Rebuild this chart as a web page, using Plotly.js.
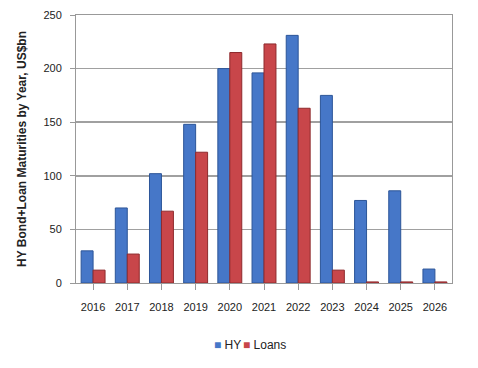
<!DOCTYPE html>
<html><head><meta charset="utf-8">
<script src="https://cdn.plot.ly/plotly-3.0.1.min.js"></script>
<style>html,body{margin:0;padding:0;background:#fff}#chart{width:478px;height:368px}</style>
</head><body><div id="chart"></div>
<script>
const years = ['2016','2017','2018','2019','2020','2021','2022','2023','2024','2025','2026'];
const hyValues = [30, 70, 102, 148, 200, 196, 231, 175, 77, 86, 13];
const loanValues = [12, 27, 67, 122, 215, 223, 163, 12, 1, 1, 1];
const yTicks = [0, 50, 100, 150, 200, 250];
const seriesNames = ['HY', 'Loans'];
const seriesColors = ['#4677c8', '#c8464a'];

const font = "'Liberation Sans Narrow', 'Liberation Sans', Arial, sans-serif";
const data = [
  {type:'bar', name:seriesNames[0], x:years, y:hyValues,
   marker:{color:seriesColors[0], line:{color:'#2c5598', width:1}}},
  {type:'bar', name:seriesNames[1], x:years, y:loanValues,
   marker:{color:seriesColors[1], line:{color:'#8e2a2d', width:1}}}
];
const legendX = [212, 241];
const annotations = seriesNames.map((n, i) => ({
  xref:'paper', yref:'paper', x:(legendX[i]-76)/376, y:-0.23, xanchor:'left', yanchor:'middle',
  showarrow:false, text:'<span style="color:'+seriesColors[i]+'">■</span> '+n,
  font:{size:12, family:font, color:'#222'}
}));
const layout = {
  width:478, height:368,
  margin:{l:76, r:26, t:15, b:85},
  paper_bgcolor:'#fff', plot_bgcolor:'#fff',
  barmode:'group', bargap:0.3, bargroupgap:0,
  font:{family:font, size:11, color:'#222'},
  xaxis:{type:'category', showline:true, linecolor:'#999', mirror:true,
         ticks:'outside', ticklen:6, tickcolor:'#999', tickfont:{size:11, family:font},
         ticklabelstandoff:8, showgrid:false},
  yaxis:{range:[0,250], tickvals:yTicks, showline:true, linecolor:'#999', mirror:true,
         gridcolor:'#a0a0a0', gridwidth:1.5, ticks:'outside', ticklen:5, tickcolor:'#999',
         tickfont:{size:11, family:font}, ticklabelstandoff:6, zeroline:false,
         title:{text:'<b>HY Bond+Loan Maturities by Year, US$bn</b>', font:{size:12, family:"'Liberation Sans', Arial, sans-serif", color:'#222'}, standoff:14}},
  showlegend:false,
  annotations:annotations
};
Plotly.newPlot('chart', data, layout, {displayModeBar:false, staticPlot:true});
</script></body></html>
